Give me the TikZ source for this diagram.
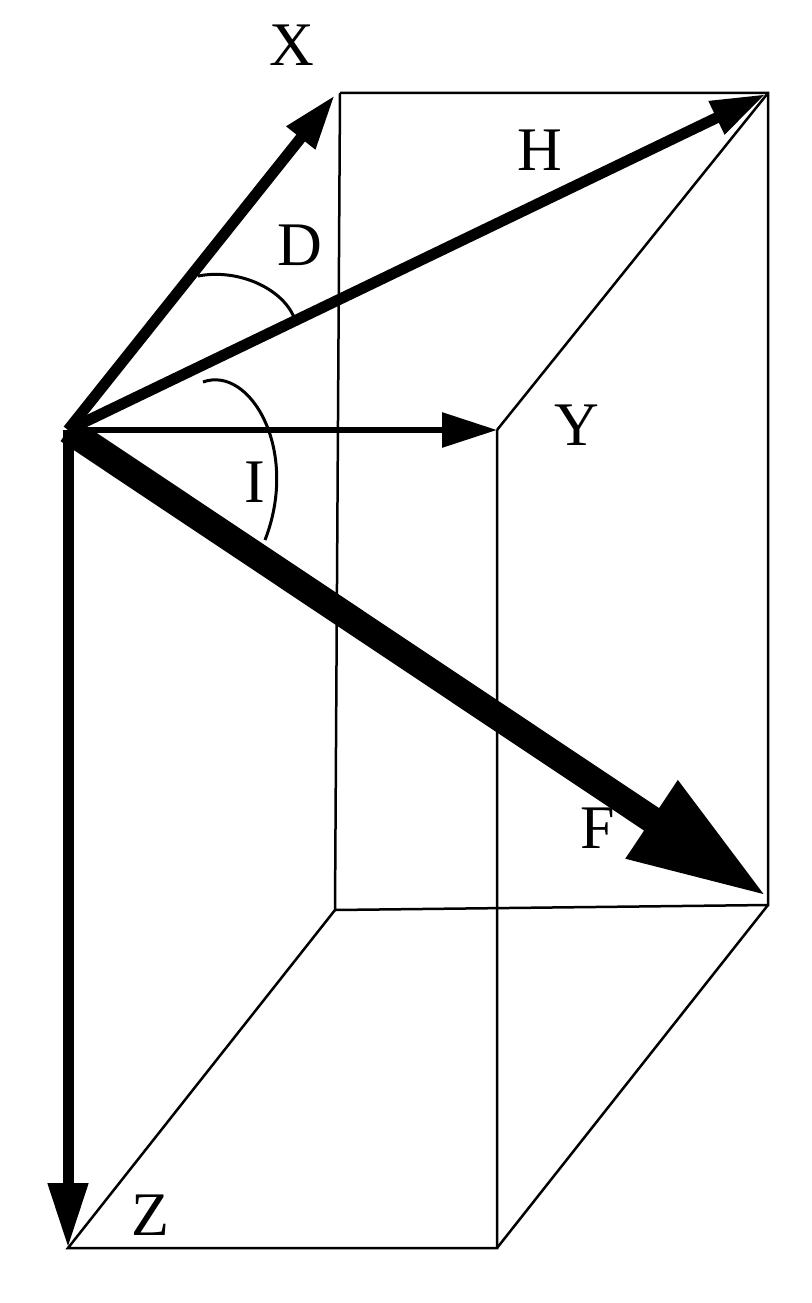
\documentclass[tikz,border=0pt]{standalone}
\usepackage{fontspec}
\setmainfont{Liberation Serif}
\usetikzlibrary{arrows.meta}
\begin{document}
\begin{tikzpicture}[x=1pt,y=-1pt,
  edge/.style={line width=2.5pt},
  vec/.style={line width=#1, -{Triangle[length=55pt,width=34pt]}},
  lbl/.style={font=\fontsize{62}{62}\selectfont, inner sep=0pt}]
\useasboundingbox (0,0) rectangle (811,1303);
\coordinate (O) at (68,430);
\coordinate (A) at (340,93);
\coordinate (B) at (768,93);
\coordinate (Yc) at (497,430);
\coordinate (C) at (335,910);
\coordinate (Dc) at (768,905);
\coordinate (E) at (68,1248);
\coordinate (G) at (497,1248);
\draw[edge] (A) -- (B) -- (Dc) -- (C) -- (A);
\draw[edge] (Yc) -- (B);
\draw[edge] (Yc) -- (G) -- (E) -- (C);
\draw[edge] (G) -- (Dc);
\draw[vec=11pt] (O) -- (335,95);
\draw[vec=11pt] (O) -- (766,94);
\draw[vec=6pt] (O) -- (Yc);
\draw[vec=11pt, -{Triangle[length=65pt,width=38pt]}] (O) -- (E);
\draw[line width=27pt, -{Triangle[length=140pt,width=86pt]}] (O) -- (768,897);
\draw[line width=3pt] (198,276) .. controls (240,268) and (285,290) .. (295,320);
\draw[line width=3pt] (203,382) .. controls (250,365) and (300,450) .. (265,540);
\node[lbl] (lx) at (292,45) {X};
\node[lbl] (lh) at (540,150) {H};
\node[lbl] (ld) at (300,245) {D};
\node[lbl] (ly) at (577,425) {Y};
\node[lbl] (li) at (255,482) {I};
\node[lbl] (lf) at (598,828) {F};
\node[lbl] (lz) at (150,1215) {Z};
\end{tikzpicture}
\end{document}
